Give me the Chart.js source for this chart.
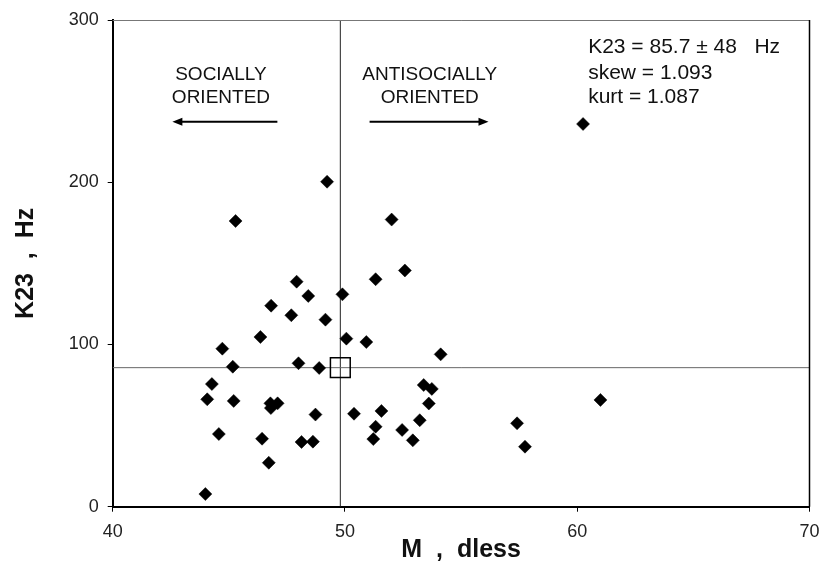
<!DOCTYPE html>
<html><head><meta charset="utf-8">
<script src="https://cdn.jsdelivr.net/npm/chart.js@4/dist/chart.umd.min.js"></script>
<style>html,body{margin:0;padding:0;background:#fff}#wrap{width:825px;height:575px}</style>
</head><body><div id="wrap"><canvas id="c" width="825" height="575"></canvas></div>
<script>
// ---- data ----
const mValues = [47.92,51.32,52.58,48.42,49.89,46.82,47.69,49.16,46.36,50.06,50.92,44.72,54.12,45.17,48.00,48.89,44.27,53.39,53.74,44.07,45.21,46.79,47.10,46.81,53.61,51.57,50.39,48.73,53.22,51.32,52.46,44.57,46.43,51.22,52.92,48.13,48.62,46.72,43.99,49.23,45.29,52.01,60.25,57.41,57.75,61.0];
const k23Values = [138.7,140.2,145.6,129.9,130.9,123.9,118.0,115.3,104.6,103.6,101.5,97.4,93.9,86.3,88.4,85.5,75.6,75.0,72.6,66.2,65.2,63.7,63.7,60.8,63.6,59.0,57.3,56.8,53.3,49.3,47.3,44.8,41.9,41.7,40.9,39.9,40.1,27.1,7.8,200.3,176.1,177.0,235.9,51.4,37.0,65.8];
const meanM = 49.8;
const meanK23 = 85.7;
const xRange = [40, 70];
const yRange = [0, 300];
const xStep = 10;
const yStep = 100;
const statsLines = ['K23 = 85.7 \u00b1 48   Hz', 'skew = 1.093', 'kurt = 1.087'];
const leftLabel = ['SOCIALLY', 'ORIENTED'];
const rightLabel = ['ANTISOCIALLY', 'ORIENTED'];
const xTitle = 'M  ,  dless';
const yTitle = 'K23  ,  Hz';

const FONT = '"Liberation Sans", Arial, Helvetica, sans-serif';

const points = mValues.map((m, i) => ({x: m, y: k23Values[i]}));

const annot = {
  id: 'annot',
  afterDatasetsDraw(chart) {
    const {ctx, chartArea: a, scales: {x, y}} = chart;
    ctx.save();
    // top & right frame
    ctx.lineWidth = 1;
    ctx.strokeStyle = '#777';
    ctx.beginPath(); ctx.moveTo(a.left, a.top + 0.5); ctx.lineTo(a.right, a.top + 0.5); ctx.stroke();
    ctx.strokeStyle = '#000';
    ctx.lineWidth = 1.5;
    ctx.beginPath(); ctx.moveTo(a.right, a.top); ctx.lineTo(a.right, a.bottom); ctx.stroke();

    ctx.fillStyle = '#111';
    ctx.font = '19px ' + FONT;
    ctx.textAlign = 'center';
    ctx.textBaseline = 'middle';
    ctx.fillText(leftLabel[0], x.getPixelForValue(44.66), y.getPixelForValue(266.1));
    ctx.fillText(leftLabel[1], x.getPixelForValue(44.66), y.getPixelForValue(252.1));
    ctx.fillText(rightLabel[0], x.getPixelForValue(53.65), y.getPixelForValue(266.1));
    ctx.fillText(rightLabel[1], x.getPixelForValue(53.65), y.getPixelForValue(252.1));

    // arrows
    const arrow = (x0, x1, yv) => {
      const px0 = x.getPixelForValue(x0), px1 = x.getPixelForValue(x1), py = y.getPixelForValue(yv);
      const dir = Math.sign(px1 - px0);
      ctx.strokeStyle = '#000'; ctx.lineWidth = 2;
      ctx.beginPath(); ctx.moveTo(px0, py); ctx.lineTo(px1 - dir * 8, py); ctx.stroke();
      ctx.fillStyle = '#000';
      ctx.beginPath(); ctx.moveTo(px1, py); ctx.lineTo(px1 - dir * 10, py - 4); ctx.lineTo(px1 - dir * 10, py + 4); ctx.closePath(); ctx.fill();
    };
    arrow(47.09, 42.57, 237.3);
    arrow(51.06, 56.18, 237.3);

    ctx.fillStyle = '#111';
    ctx.font = '21px ' + FONT;
    ctx.textAlign = 'left';
    const sy = [283.2, 267.3, 252.5];
    statsLines.forEach((t, i) => ctx.fillText(t, x.getPixelForValue(60.47), y.getPixelForValue(sy[i])));
    ctx.restore();
  }
};

new Chart(document.getElementById('c'), {
  data: {
    datasets: [
      {type: 'line', data: [{x: xRange[0], y: meanK23}, {x: xRange[1], y: meanK23}], borderColor: '#666', borderWidth: 1, pointRadius: 0, order: 3},
      {type: 'line', data: [{x: meanM, y: yRange[0]}, {x: meanM, y: yRange[1]}], borderColor: '#222', borderWidth: 1, pointRadius: 0, order: 3},
      {type: 'scatter', data: points, pointStyle: 'rectRot', pointRadius: 6.5, backgroundColor: '#000', borderColor: '#000', borderWidth: 0.5, order: 2},
      {type: 'scatter', data: [{x: meanM, y: meanK23}], pointStyle: 'rect', pointRadius: 14, backgroundColor: 'rgba(0,0,0,0)', borderColor: '#000', borderWidth: 1.5, order: 1}
    ]
  },
  options: {
    responsive: false,
    animation: false,
    devicePixelRatio: 1,
    layout: {padding: {left: 0, right: 12.7, top: 20, bottom: 0}},
    plugins: {legend: {display: false}, tooltip: {enabled: false}},
    scales: {
      x: {
        type: 'linear', min: xRange[0], max: xRange[1],
        ticks: {stepSize: xStep, color: '#222', font: {family: FONT, size: 18}, padding: 10, maxRotation: 0},
        grid: {drawOnChartArea: false, drawTicks: true, tickLength: 5, color: '#000', lineWidth: 1},
        border: {color: '#000', width: 2},
        title: {display: true, text: xTitle, color: '#111', font: {family: FONT, size: 25, weight: 'bold', lineHeight: 1}, padding: {top: 0, bottom: 12}},
        afterFit(s) { s.height = 68.3; s.paddingLeft = 0; s.paddingRight = 0; }
      },
      y: {
        type: 'linear', min: yRange[0], max: yRange[1],
        ticks: {stepSize: yStep, color: '#222', font: {family: FONT, size: 18}, padding: 9},
        grid: {drawOnChartArea: false, drawTicks: true, tickLength: 5, color: '#000', lineWidth: 1},
        border: {color: '#000', width: 2},
        title: {display: true, text: yTitle, color: '#111', font: {family: FONT, size: 25, weight: 'bold', lineHeight: 1}, padding: {top: 14, bottom: 0}},
        afterFit(s) { s.width = 112.7; s.paddingTop = 0; s.paddingBottom = 0; }
      }
    }
  },
  plugins: [annot]
});
</script>
</body></html>
